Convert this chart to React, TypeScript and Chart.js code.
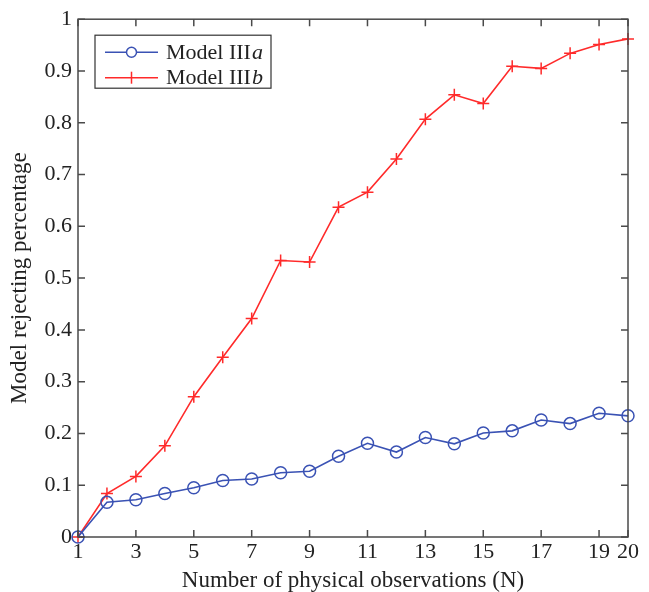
import React, { useEffect, useRef } from "react";
import { Chart, registerables } from "chart.js";
Chart.register(...registerables);

const observations = [1, 2, 3, 4, 5, 6, 7, 8, 9, 10, 11, 12, 13, 14, 15, 16, 17, 18, 19, 20];
const modelIIIa = [0, 0.067, 0.072, 0.084, 0.095, 0.109, 0.112, 0.124, 0.127, 0.156, 0.181, 0.164, 0.192, 0.18, 0.201, 0.205, 0.226, 0.219, 0.239, 0.234];
const modelIIIb = [0, 0.084, 0.117, 0.176, 0.271, 0.347, 0.422, 0.534, 0.531, 0.637, 0.666, 0.73, 0.807, 0.854, 0.837, 0.909, 0.905, 0.934, 0.951, 0.962];
const xTickValues = [1, 3, 5, 7, 9, 11, 13, 15, 17, 19, 20];
const yTickValues = [0, 0.1, 0.2, 0.3, 0.4, 0.5, 0.6, 0.7, 0.8, 0.9, 1];
const seriesBase = ["Model III", "Model III"];
const seriesSuffix = ["a", "b"];
const xTitle = "Number of physical observations (N)";
const yTitle = "Model rejecting percentage";

const FONT = "'Liberation Serif', 'Times New Roman', serif";
const BLUE = "#3a52b4";
const RED = "#ff2a2a";
const AXIS = "#4a4a4a";
const TEXT = "#222222";

const frameTicks = {
  id: "frameTicks",
  afterDatasetsDraw(chart: any) {
    const { ctx, chartArea: a, scales } = chart;
    ctx.save();
    ctx.strokeStyle = AXIS;
    ctx.lineWidth = 1.5;
    ctx.strokeRect(a.left, a.top, a.right - a.left, a.bottom - a.top);
    const L = 7;
    ctx.beginPath();
    for (const v of xTickValues) {
      const px = scales.x.getPixelForValue(v);
      ctx.moveTo(px, a.bottom);
      ctx.lineTo(px, a.bottom - L);
      ctx.moveTo(px, a.top);
      ctx.lineTo(px, a.top + L);
    }
    for (const v of yTickValues) {
      const py = scales.y.getPixelForValue(v);
      ctx.moveTo(a.left, py);
      ctx.lineTo(a.left + L, py);
      ctx.moveTo(a.right, py);
      ctx.lineTo(a.right - L, py);
    }
    ctx.stroke();
    ctx.restore();
  },
};

const legendBox = {
  id: "legendBox",
  afterDraw(chart: any) {
    const { ctx, chartArea: a } = chart;
    const x0 = a.left + 17;
    const y0 = a.top + 16;
    const w = 176;
    const h = 53;
    ctx.save();
    ctx.fillStyle = "#ffffff";
    ctx.fillRect(x0, y0, w, h);
    ctx.strokeStyle = "#333333";
    ctx.lineWidth = 1.2;
    ctx.strokeRect(x0, y0, w, h);
    const colors = [BLUE, RED];
    for (let i = 0; i < 2; i++) {
      const cy = y0 + 17 + i * 25.5;
      const lx0 = x0 + 10;
      const lx1 = x0 + 63;
      const mx = (lx0 + lx1) / 2;
      ctx.strokeStyle = colors[i];
      ctx.lineWidth = 1.5;
      ctx.beginPath();
      ctx.moveTo(lx0, cy);
      ctx.lineTo(lx1, cy);
      ctx.stroke();
      ctx.beginPath();
      if (i === 0) {
        ctx.fillStyle = "#ffffff";
        ctx.arc(mx, cy, 5, 0, Math.PI * 2);
        ctx.fill();
        ctx.stroke();
      } else {
        ctx.moveTo(mx, cy - 6);
        ctx.lineTo(mx, cy + 6);
        ctx.stroke();
      }
      ctx.fillStyle = TEXT;
      ctx.textBaseline = "middle";
      ctx.textAlign = "left";
      ctx.font = `22px ${FONT}`;
      const tx = x0 + 71;
      ctx.fillText(seriesBase[i], tx, cy + 1);
      const wBase = ctx.measureText(seriesBase[i]).width;
      ctx.font = `italic 22px ${FONT}`;
      ctx.fillText(seriesSuffix[i], tx + wBase + 1, cy + 1);
    }
    ctx.restore();
  },
};

export default function App() {
  const ref = useRef<HTMLCanvasElement | null>(null);
  useEffect(() => {
    if (!ref.current) return;
    const chart = new Chart(ref.current, {
      type: "line",
      data: {
        datasets: [
          {
            label: "Model IIIa",
            data: observations.map((x, i) => ({ x, y: modelIIIa[i] })),
            borderColor: BLUE,
            backgroundColor: "rgba(0,0,0,0)",
            borderWidth: 1.6,
            pointStyle: "circle",
            pointRadius: 6,
            pointBorderWidth: 1.5,
            pointBorderColor: BLUE,
            pointBackgroundColor: "rgba(0,0,0,0)",
            tension: 0,
          },
          {
            label: "Model IIIb",
            data: observations.map((x, i) => ({ x, y: modelIIIb[i] })),
            borderColor: RED,
            backgroundColor: "rgba(0,0,0,0)",
            borderWidth: 1.6,
            pointStyle: "cross",
            pointRadius: 6,
            pointBorderWidth: 1.5,
            pointBorderColor: RED,
            tension: 0,
          },
        ],
      },
      options: {
        animation: false,
        responsive: true,
        maintainAspectRatio: false,
        clip: false as any,
        layout: { padding: { top: 16, right: 21, left: 0, bottom: 0 } },
        plugins: { legend: { display: false }, tooltip: { enabled: false } },
        scales: {
          x: {
            type: "linear",
            min: 1,
            max: 20,
            afterBuildTicks: (s: any) => {
              s.ticks = xTickValues.map((v) => ({ value: v }));
            },
            afterFit: (s: any) => {
              s.height = 55;
            },
            grid: { display: false, drawTicks: false },
            border: { display: false },
            ticks: {
              color: TEXT,
              padding: 3,
              maxRotation: 0,
              autoSkip: false,
              font: { family: FONT, size: 22, lineHeight: 1.1 },
              callback: (v: any) => String(v),
            },
            title: {
              display: true,
              text: xTitle,
              color: TEXT,
              font: { family: FONT, size: 23, lineHeight: 1 },
              padding: { top: 0, bottom: 0 },
            },
          },
          y: {
            type: "linear",
            min: 0,
            max: 1,
            afterBuildTicks: (s: any) => {
              s.ticks = yTickValues.map((v) => ({ value: v }));
            },
            afterFit: (s: any) => {
              s.width = 78;
            },
            grid: { display: false, drawTicks: false },
            border: { display: false },
            ticks: {
              color: TEXT,
              padding: 6,
              autoSkip: false,
              font: { family: FONT, size: 22 },
              callback: (v: any) => String(Number(Number(v).toFixed(1))),
            },
            title: {
              display: true,
              text: yTitle,
              color: TEXT,
              font: { family: FONT, size: 23, lineHeight: 1 },
              padding: { top: 8, bottom: 0 },
            },
          },
        },
      },
      plugins: [frameTicks, legendBox],
    });
    return () => chart.destroy();
  }, []);
  return (
    <div style={{ position: "fixed", left: 0, top: 0, width: 649, height: 592, background: "#fff" }}>
      <canvas ref={ref} />
    </div>
  );
}
